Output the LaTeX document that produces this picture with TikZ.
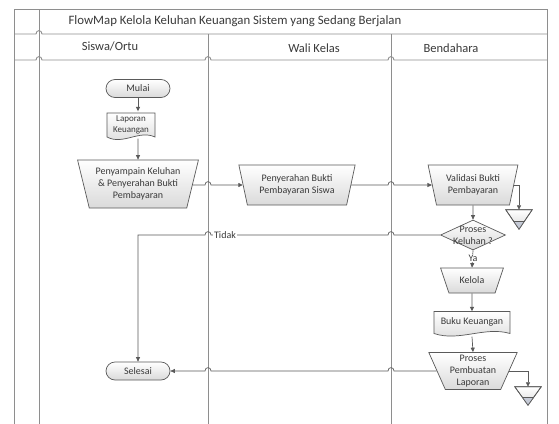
\documentclass[tikz,border=0pt]{standalone}
\usepackage{fontspec}
\setmainfont{Carlito}
\usetikzlibrary{shapes.geometric,shapes.misc,arrows.meta,calc}
\definecolor{lanec}{HTML}{8E8E8E}
\definecolor{edgec}{HTML}{5A5A5A}
\definecolor{txtc}{HTML}{3A3A3A}
\definecolor{shadec}{HTML}{DADADA}
\definecolor{archc}{HTML}{C5CAD6}
\begin{document}
\begin{tikzpicture}[x=1pt,y=-1pt,
  frame/.style={draw=lanec, line width=0.9pt},
  conn/.style={draw=edgec, line width=0.7pt},
  arr/.style={conn, -{Triangle[length=4.5pt,width=4pt]}},
  boxfill/.style={draw=edgec, line width=0.7pt, top color=white, bottom color=shadec},
  lbl/.style={text=txtc, font=\fontsize{10}{12}\selectfont, align=center},
  term/.style={boxfill, rounded rectangle, minimum width=64pt, minimum height=18pt, inner sep=0pt, lbl},
  manop/.style={boxfill, trapezium, shape border rotate=180, trapezium stretches=true, inner sep=0pt, lbl},
  docnode/.style={lbl, inner sep=0pt},
  head/.style={text=txtc, font=\fontsize{12.5}{14}\selectfont},
  hopr/.style args={#1/#2}{insert path={-- (#1-3,#2) .. controls (#1-3,#2-4.5) and (#1+3,#2-4.5) .. (#1+3,#2)}},
  hopl/.style args={#1/#2}{insert path={-- (#1+3,#2) .. controls (#1+3,#2-4.5) and (#1-3,#2-4.5) .. (#1-3,#2)}},
  archbox/.style={minimum width=26pt, minimum height=19pt, inner sep=0pt},
]
\fill[white] (0,0) rectangle (559,423);
\useasboundingbox (0,0) rectangle (559,423);

% frame and lanes
\draw[frame] (14,9) -- (547,9);
\draw[frame] (14,9) -- (14,424);
\draw[frame] (547,9) -- (547,424);
\draw[frame] (39,9) -- (39,424);
\draw[frame] (14,34) [hopr=39/34] -- (547,34);
\draw[frame] (14,60) [hopr=39/60] [hopr=208/60] [hopr=391/60] -- (547,60);
\draw[frame] (208,34) -- (208,424);
\draw[frame] (391,34) -- (391,424);

\node[head, anchor=west, font=\fontsize{12.8}{15}\selectfont] (title) at (65,21) {FlowMap Kelola Keluhan Keuangan Sistem yang Sedang Berjalan};
\node[head] (h1) at (110,46) {Siswa/Ortu};
\node[head] (h2) at (314,48) {Wali Kelas};
\node[head] (h3) at (451,48) {Bendahara};

% Siswa/Ortu lane
\node[term] (mulai) at (138,88.5) {Mulai};

\coordinate (lapc) at (131,126.5);
\path[boxfill] ($(lapc)+(-24,-13.5)$) -- ($(lapc)+(24,-13.5)$) -- ($(lapc)+(24,10.5)$)
  .. controls ($(lapc)+(8,3)$) and ($(lapc)+(-8,19)$) .. ($(lapc)+(-24,10.5)$) -- cycle;
\node[docnode, minimum width=48pt, minimum height=27pt, font=\fontsize{9}{11}\selectfont] (lap) at ($(lapc)+(0,-1.5)$) {Laporan\\Keuangan};

\node[manop, trapezium left angle=72.6, trapezium right angle=72.6,
  minimum width=121pt, minimum height=48pt] (pen) at (138,184) {Penyampain Keluhan\\\& Penyerahan Bukti\\Pembayaran};

\node[term] (sel) at (138,371) {Selesai};

% Wali Kelas lane
\node[manop, trapezium left angle=72.6, trapezium right angle=72.6,
  minimum width=117pt, minimum height=40pt] (pey) at (297,185) {Penyerahan Bukti\\Pembayaran Siswa};

% Bendahara lane
\node[manop, trapezium left angle=73.3, trapezium right angle=73.3,
  minimum width=90pt, minimum height=40pt] (val) at (473,185) {Validasi Bukti\\Pembayaran};

\node[archbox] (arch1) at (519,219.5) {};
\path[boxfill] (arch1.north west) -- (arch1.north east) -- (arch1.south) -- cycle;
\fill[archc] ($(arch1.south)!0.42!(arch1.north west)$) -- ($(arch1.south)!0.42!(arch1.north east)$) -- (arch1.south) -- cycle;
\draw[edgec, line width=0.5pt] ($(arch1.south)!0.42!(arch1.north west)$) -- ($(arch1.south)!0.42!(arch1.north east)$);
\draw[edgec, line width=0.7pt] (arch1.north west) -- (arch1.north east) -- (arch1.south) -- cycle;

\node[boxfill, diamond, minimum width=65pt, minimum height=30pt, inner sep=0pt] (dec) at (473,235) {};
\node[lbl] (dectxt) at (473,235) {Proses\\Keluhan ?};

\node[manop, trapezium left angle=57.4, trapezium right angle=57.4,
  minimum width=63pt, minimum height=25pt] (kel) at (472,280.5) {Kelola};

\coordinate (bukc) at (472,324);
\path[boxfill] ($(bukc)+(-38,-12.5)$) -- ($(bukc)+(38,-12.5)$) -- ($(bukc)+(38,9.5)$)
  .. controls ($(bukc)+(13,2)$) and ($(bukc)+(-13,18)$) .. ($(bukc)+(-38,9.5)$) -- cycle;
\node[docnode, minimum width=76pt, minimum height=25pt] (buk) at ($(bukc)+(0,0)$) {};
\node[lbl] (buktxt) at ($(bukc)+(0,-2.5)$) {Buku Keuangan};

\node[manop, trapezium left angle=66.6, trapezium right angle=66.6,
  minimum width=89pt, minimum height=37pt] (pro) at (473,371) {Proses\\Pembuatan\\Laporan};

\node[archbox, minimum height=18pt] (arch2) at (528,396) {};
\path[boxfill] (arch2.north west) -- (arch2.north east) -- (arch2.south) -- cycle;
\fill[archc] ($(arch2.south)!0.42!(arch2.north west)$) -- ($(arch2.south)!0.42!(arch2.north east)$) -- (arch2.south) -- cycle;
\draw[edgec, line width=0.5pt] ($(arch2.south)!0.42!(arch2.north west)$) -- ($(arch2.south)!0.42!(arch2.north east)$);
\draw[edgec, line width=0.7pt] (arch2.north west) -- (arch2.north east) -- (arch2.south) -- cycle;

% connectors
\draw[arr] (mulai.south) -- (mulai.south |- lap.north);
\draw[arr] (mulai.south |- lap.south) -- (pen.north);
\draw[arr] (pen.east |- pey.west) [hopr=208/185] -- (pey.west);
\draw[arr] (pey.east) [hopr=391/185] -- (val.west);
\draw[arr] (val.east) -| (arch1.north);
\draw[arr] (val.south) -- (dec.north);
\draw[arr] (dec.west) [hopl=391/235] [hopl=208/235] -| (sel.north);
\node[lbl, fill=white, inner sep=1pt] (tidak) at (225,235) {Tidak};
\draw[arr] (dec.south) -- (kel.north);
\node[lbl, fill=white, inner sep=0.5pt] (ya) at (473,258) {Ya};
\draw[arr] (kel.south) -- (buk.north);
\draw[arr] (buk.south) -- (pro.north);
\draw[arr] (pro.east) -| (arch2.north);
\draw[arr] (pro.west) [hopl=391/371] [hopl=208/371] -- (sel.east);
\end{tikzpicture}
\end{document}
